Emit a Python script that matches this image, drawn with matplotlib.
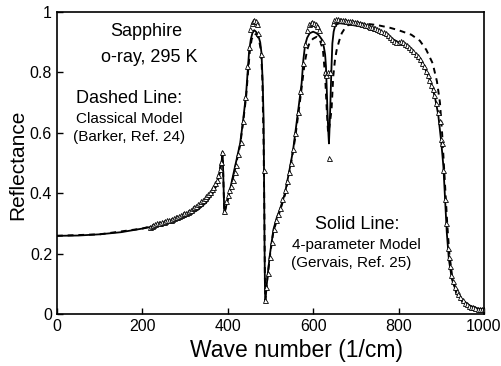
import matplotlib
matplotlib.use("Agg")
import matplotlib.pyplot as plt
import numpy as np

plt.rcParams['font.family'] = ['Liberation Sans', 'DejaVu Sans']

# solid line: 4-parameter model (Gervais)
solid_wn = [0, 50, 100, 150, 200, 250, 300, 330, 350, 365, 375, 382, 386, 388,
            392, 405, 417, 429, 436, 443, 447, 450, 454, 458, 462, 466, 471, 476, 479,
            482, 484, 485, 486, 487, 488, 493, 499, 507, 515, 522, 534, 546, 553, 557,
            565, 573, 577, 581, 586, 592, 600, 608, 614, 620, 625, 628, 630, 632, 634,
            636, 637, 638, 640, 641, 643, 645, 648, 651, 656, 662, 680, 700, 720, 740,
            760, 780, 800, 820, 840, 860, 875, 885, 893, 900, 905, 909, 913, 918, 925,
            935, 950, 970, 1000]
solid_r = [0.259, 0.260, 0.264, 0.271, 0.283, 0.297, 0.322, 0.345, 0.370, 0.400, 0.430,
           0.470, 0.510, 0.537, 0.331, 0.410, 0.488, 0.565, 0.642, 0.730, 0.810, 0.870,
           0.910, 0.932, 0.940, 0.935, 0.924, 0.900, 0.864, 0.760, 0.640, 0.455, 0.250,
           0.100, 0.040, 0.124, 0.200, 0.280, 0.320, 0.345, 0.400, 0.488, 0.543, 0.587,
           0.675, 0.764, 0.841, 0.890, 0.915, 0.930, 0.935, 0.930, 0.922, 0.910, 0.885,
           0.860, 0.820, 0.740, 0.650, 0.590, 0.565, 0.600, 0.680, 0.730, 0.820, 0.896,
           0.935, 0.952, 0.960, 0.963, 0.960, 0.955, 0.950, 0.940, 0.930, 0.915, 0.900,
           0.885, 0.860, 0.820, 0.770, 0.720, 0.660, 0.570, 0.490, 0.380, 0.270, 0.180,
           0.115, 0.075, 0.045, 0.025, 0.013]

# dashed line: classical model (Barker)
dash_wn = [0, 100, 200, 300, 350, 375, 384, 388, 392, 405, 417, 429, 436, 443, 448,
           452, 456, 462, 468, 473, 478, 481, 484, 486, 487, 488, 493, 499, 507, 522,
           534, 546, 557, 566, 574, 580, 586, 592, 600, 608, 616, 623, 628, 632, 635,
           638, 643, 647, 651, 655, 661, 667, 675, 682, 700, 720, 750, 780, 800, 830,
           850, 865, 880, 890, 897, 902, 906, 910, 914, 919, 926, 935, 950, 970, 1000]
dash_r = [0.259, 0.264, 0.283, 0.322, 0.370, 0.430, 0.500, 0.530, 0.335, 0.405, 0.480,
          0.560, 0.635, 0.720, 0.810, 0.875, 0.910, 0.928, 0.925, 0.910, 0.870, 0.780,
          0.560, 0.300, 0.120, 0.045, 0.120, 0.195, 0.275, 0.340, 0.395, 0.480, 0.575,
          0.670, 0.760, 0.830, 0.875, 0.900, 0.912, 0.918, 0.907, 0.874, 0.789, 0.675,
          0.600, 0.620, 0.675, 0.786, 0.840, 0.874, 0.905, 0.930, 0.948, 0.957, 0.962,
          0.962, 0.957, 0.948, 0.940, 0.925, 0.905, 0.875, 0.830, 0.770, 0.700, 0.600,
          0.500, 0.400, 0.300, 0.200, 0.120, 0.070, 0.040, 0.025, 0.015]

# measured reflectance (triangles)
meas_wn = [218, 222, 226, 230, 234, 238, 242, 246, 250, 254, 258, 262, 266, 270, 274,
           278, 282, 286, 290, 294, 298, 302, 306, 310, 314, 318, 322, 326, 330, 334,
           338, 342, 346, 350, 354, 358, 362, 366, 370, 374, 378, 382, 385, 387,
           392, 396, 400, 404, 408, 412, 416, 420, 425, 430, 436, 441, 446, 450, 453,
           456, 459, 462, 465, 468, 471, 478, 484, 487,
           490, 494, 498, 503, 508, 513, 518, 523, 528, 533, 538, 543, 548, 553, 558,
           564, 570, 576, 580, 585, 590, 594, 598, 602, 606, 610, 614, 620, 628, 631,
           634, 636, 640,
           646, 650, 654, 658, 662, 666, 670, 674, 678, 682, 686, 690, 694, 698, 702,
           706, 710, 714, 718, 722, 726, 730, 734, 738, 742, 746, 750, 755, 760, 765,
           770, 775, 780, 785, 790, 795, 800, 805, 810, 815, 820, 825, 830, 835, 840,
           845, 850, 855, 860, 864, 868, 872, 876, 880, 884, 888, 892, 896, 900, 902,
           905, 909, 912, 915, 918, 921, 924, 928, 932, 936, 940, 945, 950, 955, 960,
           965, 970, 975, 980, 985, 990, 995, 1000]
meas_r = [0.288, 0.292, 0.296, 0.298, 0.300, 0.302, 0.303, 0.306, 0.306, 0.308, 0.310,
          0.312, 0.313, 0.316, 0.318, 0.320, 0.322, 0.325, 0.327, 0.330, 0.333, 0.336,
          0.339, 0.342, 0.346, 0.350, 0.354, 0.358, 0.363, 0.368, 0.373, 0.378, 0.384,
          0.390, 0.397, 0.405, 0.413, 0.422, 0.433, 0.445, 0.460, 0.480, 0.505, 0.535,
          0.340, 0.375, 0.395, 0.410, 0.425, 0.445, 0.470, 0.495, 0.530, 0.570, 0.640,
          0.720, 0.820, 0.885, 0.945, 0.965, 0.972, 0.975, 0.970, 0.960, 0.930, 0.860,
          0.477, 0.045,
          0.090, 0.135, 0.190, 0.240, 0.280, 0.310, 0.330, 0.350, 0.380, 0.410, 0.440,
          0.470, 0.500, 0.545, 0.600, 0.670, 0.740, 0.830, 0.895, 0.940, 0.960, 0.965,
          0.968, 0.965, 0.962, 0.955, 0.940, 0.905, 0.800, 0.790, 0.800, 0.516, 0.800,
          0.965, 0.975, 0.976, 0.976, 0.975, 0.975, 0.974, 0.973, 0.972, 0.971, 0.970,
          0.969, 0.968, 0.967, 0.966, 0.965, 0.964, 0.962, 0.960, 0.958, 0.956, 0.954,
          0.952, 0.950, 0.948, 0.946, 0.944, 0.941, 0.938, 0.934, 0.930, 0.924, 0.917,
          0.910, 0.905, 0.902, 0.900, 0.903, 0.900, 0.895, 0.890, 0.885, 0.878, 0.870,
          0.862, 0.853, 0.843, 0.832, 0.820, 0.805, 0.790, 0.775, 0.760, 0.745, 0.725,
          0.700, 0.670, 0.640, 0.580, 0.565, 0.477, 0.380, 0.300, 0.220, 0.190, 0.160,
          0.130, 0.110, 0.090, 0.075, 0.065, 0.055, 0.045, 0.038, 0.032, 0.027, 0.024,
          0.022, 0.020, 0.018, 0.017, 0.016, 0.015]

x_ticks = [0, 200, 400, 600, 800, 1000]
y_ticks = [0, 0.2, 0.4, 0.6, 0.8, 1]
y_tick_labels = ['0', '0.2', '0.4', '0.6', '0.8', '1']

fig = plt.figure(figsize=(5.02, 3.66), dpi=100)
ax = fig.add_axes([0.1135, 0.142, 0.8505, 0.825])

ax.plot(dash_wn, dash_r, color='black', linestyle=(0, (3, 2.5)), linewidth=1.4)
ax.plot(solid_wn, solid_r, color='black', linestyle='-', linewidth=1.3)
ax.plot(meas_wn, meas_r, linestyle='none', marker='^', markersize=3.6,
        markerfacecolor='white', markeredgecolor='black', markeredgewidth=0.6)

ax.set_xlim(0, 1000)
ax.set_ylim(0, 1)
ax.set_xticks(x_ticks)
ax.set_yticks(y_ticks)
ax.set_yticklabels(y_tick_labels)
ax.tick_params(direction='in', length=4, width=1, labelsize=11.5)
for s in ax.spines.values():
    s.set_linewidth(1.2)

# axis titles placed where the reference has them
fig.text(296 / 502, 1 - 350 / 366, 'Wave number (1/cm)', fontsize=16.5,
         ha='center', va='center')
fig.text(18 / 502, 1 - 165 / 366, 'Reflectance', fontsize=15,
         rotation=90, ha='center', va='center')

ax.text(210, 0.935, 'Sapphire', ha='center', va='center', fontsize=13)
ax.text(215, 0.85, 'o-ray, 295 K', ha='center', va='center', fontsize=13)
ax.text(170, 0.715, 'Dashed Line:', ha='center', va='center', fontsize=13)
ax.text(170, 0.645, 'Classical Model', ha='center', va='center', fontsize=11)
ax.text(170, 0.585, '(Barker, Ref. 24)', ha='center', va='center', fontsize=11)
ax.text(702, 0.295, 'Solid Line:', ha='center', va='center', fontsize=13)
ax.text(702, 0.230, '4-parameter Model', ha='center', va='center', fontsize=11)
ax.text(690, 0.170, '(Gervais, Ref. 25)', ha='center', va='center', fontsize=11)

fig.savefig('out.png', dpi=100)
